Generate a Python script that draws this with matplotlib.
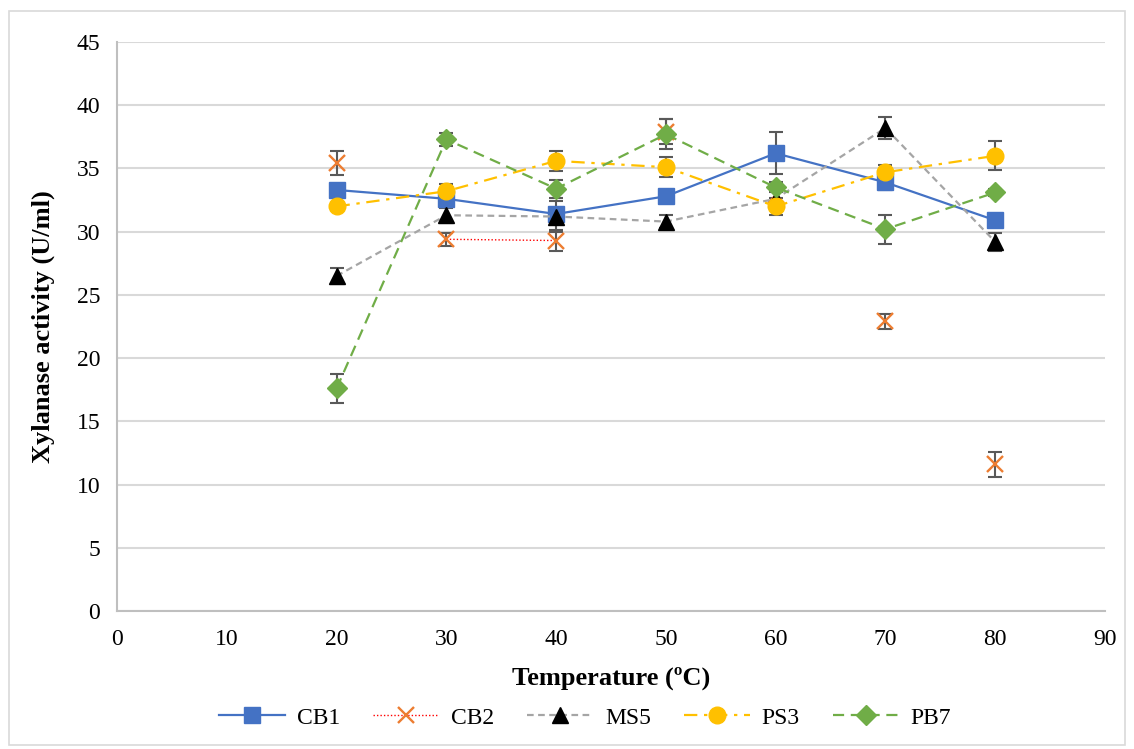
import matplotlib
matplotlib.use("Agg")
import matplotlib.pyplot as plt
from matplotlib.patches import Rectangle
import numpy as np

temps = [20, 30, 40, 50, 60, 70, 80]
cb1 = [33.3, 32.6, 31.4, 32.8, 36.2, 33.9, 30.9]
cb1_err = [0.3, 0.5, 0.5, 0.4, 1.65, 0.6, 0.4]
cb2 = [35.4, 29.4, 29.3, 37.9, 32.9, 22.9, 11.6]
cb2_err = [0.95, 0.5, 0.8, 1.0, 0.5, 0.6, 1.0]
ms5 = [26.5, 31.3, 31.2, 30.8, 32.6, 38.2, 29.2]
ms5_err = [0.6, 0.6, 1.2, 0.5, 0.7, 0.85, 0.7]
ps3 = [32.0, 33.2, 35.6, 35.1, 32.0, 34.7, 36.0]
ps3_err = [0.3, 0.6, 0.8, 0.8, 0.7, 0.6, 1.15]
pb7 = [17.6, 37.3, 33.4, 37.7, 33.5, 30.2, 33.1]
pb7_err = [1.15, 0.5, 0.7, 1.2, 0.4, 1.15, 0.3]
# CB2 line drawn only between these temperatures
cb2_line_temps = [30, 40]

fig = plt.figure(figsize=(11.34, 7.49), dpi=100)
ax = fig.add_axes([0.1032, 0.1842, 0.8712, 0.7597])
plt.rcParams['font.family'] = ['Liberation Serif', 'DejaVu Serif']

fig.patches.append(Rectangle((9/1134, 1 - 745/749), 1 - 18/1134, (745 - 11)/749,
                             transform=fig.transFigure, fill=False,
                             edgecolor='#D9D9D9', lw=1.2))

ecol = '#595959'
ekw = dict(ecolor=ecol, elinewidth=1.5, capsize=5, capthick=1.5, zorder=2)

# error bars
for vals, errs in [(cb1, cb1_err), (cb2, cb2_err), (ms5, ms5_err), (ps3, ps3_err), (pb7, pb7_err)]:
    ax.errorbar(temps, vals, yerr=errs, fmt='none', **ekw)

# CB2 line segment
seg = [cb2[temps.index(t)] for t in cb2_line_temps]
ax.plot(cb2_line_temps, seg, color='#FF0000', lw=1.0, ls=(0, (1, 1.5)), zorder=3)

l_cb1, = ax.plot(temps, cb1, color='#4472C4', lw=1.6, marker='s', ms=11,
                 mfc='#4472C4', mec='#4472C4', zorder=4, label='CB1')
ax.plot(temps, cb2, ls='none', marker='x', ms=12, mew=1.7, color='#ED7D31', zorder=4)
l_ms5, = ax.plot(temps, ms5, color='#A5A5A5', lw=1.6, ls=(0, (3, 2)), marker='^', ms=12,
                 mfc='black', mec='black', zorder=4, label='MS5')
l_ps3, = ax.plot(temps, ps3, color='#FFC000', lw=1.6, ls=(0, (6, 3, 1.5, 3)), marker='o', ms=12,
                 mfc='#FFC000', mec='#FFC000', zorder=4, label='PS3')
l_pb7, = ax.plot(temps, pb7, color='#70AD47', lw=1.6, ls=(0, (5, 3)), marker='D', ms=10,
                 mfc='#70AD47', mec='#70AD47', zorder=4, label='PB7')

# legend handle for CB2
l_cb2, = ax.plot([], [], color='#FF0000', lw=1.0, ls=(0, (1, 1.5)), marker='x', ms=12,
                 mew=1.7, mec='#ED7D31', label='CB2')

ax.set_xlim(0, 90)
ax.set_ylim(0, 45)
ax.set_xticks(range(0, 91, 10))
ax.set_yticks(range(0, 46, 5))
ax.yaxis.grid(True, color='#D9D9D9', lw=1.5)
ax.set_axisbelow(True)
for s in ['top', 'right']:
    ax.spines[s].set_visible(False)
for s in ['left', 'bottom']:
    ax.spines[s].set_color('#BFBFBF')
    ax.spines[s].set_linewidth(1.5)
ax.tick_params(length=0, labelsize=17)
ax.tick_params(axis='x', pad=13)
ax.tick_params(axis='y', pad=12)
for lab in ax.get_xticklabels() + ax.get_yticklabels():
    lab.set_fontfamily(['Liberation Serif', 'DejaVu Serif'])

ax.set_xlabel('Temperature (ºC)', fontsize=19, fontweight='bold',
              family=['Liberation Serif', 'DejaVu Serif'], labelpad=12)
ax.set_ylabel('Xylanase activity (U/ml)', fontsize=19, fontweight='bold',
              family=['Liberation Serif', 'DejaVu Serif'], labelpad=16)

fig.legend(handles=[l_cb1, l_cb2, l_ms5, l_ps3, l_pb7], loc='center',
           bbox_to_anchor=(585/1134, 1 - 718/749), ncol=5, frameon=False,
           prop={'family': ['Liberation Serif', 'DejaVu Serif'], 'size': 17},
           handlelength=2.8, columnspacing=1.4, handletextpad=0.5)

fig.savefig('out.png', dpi=100)
